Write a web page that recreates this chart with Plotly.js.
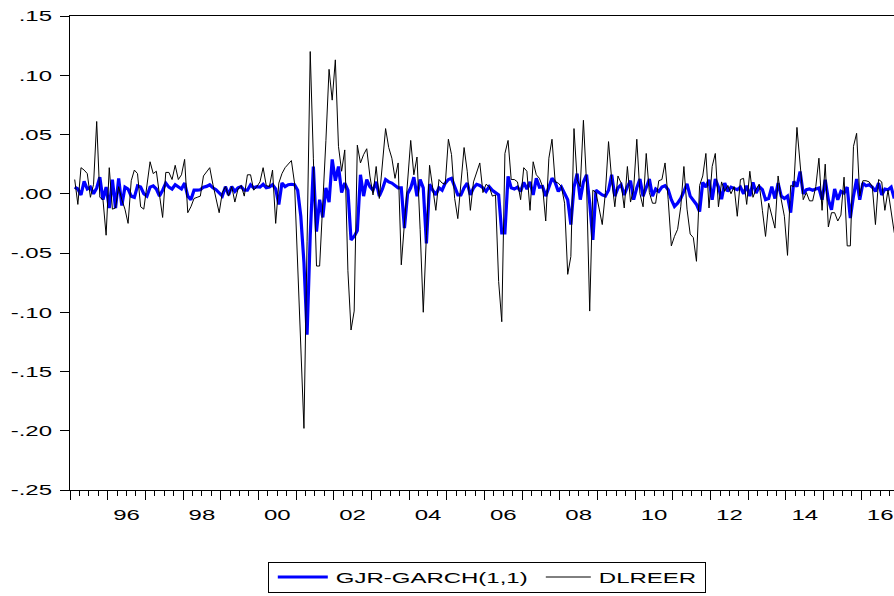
<!DOCTYPE html>
<html>
<head>
<meta charset="utf-8">
<script src="https://cdn.plot.ly/plotly-3.0.1.min.js"></script>
<style>
html, body { margin: 0; padding: 0; background: #fff; overflow: hidden; width: 894px; height: 596px; }
#chart { width: 899px; height: 596px; }
</style>
</head>
<body>
<div id="chart"></div>
<script>
// First monthly observation (February 1995); one value per month afterwards
const firstObs = { year: 1995, month: 2 };

// DLREER (thin black line)
const dlreer = [
  .012,-.009,.022,.020,.017,-.003,.008,.061,-.003,-.005,
  -.035,.022,-.013,-.012,.006,-.005,-.013,-.025,.011,.020,
  .017,-.011,-.013,.009,.027,.017,.019,-.001,-.020,.018,
  .018,.012,.024,.012,.016,.029,-.016,-.011,-.004,-.003,
  -.002,.015,.019,.022,.008,-.004,-.016,.001,.006,-.002,
  .006,-.007,.004,.007,-.002,.016,.016,.003,.006,.010,
  .022,.007,.006,.020,-.025,.009,.017,.022,.025,.028,
  .009,-.060,-.130,-.198,-.040,.120,.030,-.061,-.061,-.010,
  .045,.105,.079,.113,.040,.019,.037,-.065,-.115,-.099,
  .041,.026,.033,.038,.015,-.001,.023,-.004,.027,.055,
  .039,.030,.013,.026,-.060,-.025,.012,.045,.016,.031,
  -.030,-.100,-.035,.024,.005,-.014,.012,.009,.008,.046,
  .033,-.004,-.021,.012,.039,.019,-.014,.010,.019,.026,
  .001,.008,.006,-.002,-.001,-.074,-.108,.034,.045,.012,
  .012,.010,-.005,.022,.019,-.014,.027,.016,.013,.006,
  -.023,.030,.046,.010,.009,.006,-.008,-.068,-.053,.055,
  .012,.006,.062,.009,-.099,.003,.001,-.014,-.026,.001,
  .044,.012,-.011,.015,.009,-.012,.023,-.007,.004,.046,
  .000,-.011,.034,.001,-.008,-.008,.011,.012,.026,-.005,
  -.044,-.036,-.030,-.011,.023,-.013,-.034,-.037,-.057,.007,
  .015,.034,-.012,.023,.034,-.011,.010,.002,.007,.000,
  .006,-.019,.012,.013,-.009,.019,-.003,.004,.008,-.014,
  -.036,-.008,-.019,-.029,.015,-.005,-.019,-.052,.007,.006,
  .056,.026,-.005,.001,-.006,-.006,.006,.030,-.014,.025,
  -.028,-.016,-.016,-.023,-.018,.014,-.044,-.044,.040,.051,
  -.002,.011,.011,.010,.006,-.026,.012,.010,-.014,.003,
  -.016,-.033
];

// GJR-GARCH(1,1) (thick blue line)
const gjrGarch = [
  .0056,.004,-.001,.0104,.004,.0056,.000,.0048,.014,-.005,
  .0056,-.012,.0118,-.012,.013,-.010,.0056,.004,-.002,-.003,
  .0067,.0056,.000,-.002,.0056,.0067,.004,-.002,.003,.009,
  .0056,.004,.0076,.0056,.004,.009,-.002,-.005,.003,.003,
  .0034,.0056,.0062,.0076,.005,.0034,.0006,-.002,.006,-.001,
  .006,.002,.005,.006,.003,.003,.0076,.005,.006,.0056,
  .008,.005,.0056,.0076,.004,-.009,.009,.006,.0076,.008,
  .0076,.003,-.019,-.058,-.119,-.035,.023,-.032,-.005,-.020,
  .005,-.007,.029,.011,.023,.001,.009,.003,-.039,-.036,
  -.031,.016,-.002,.012,.006,.003,.010,-.002,.004,.012,
  .010,.009,.007,.005,.005,-.029,.000,.005,.014,-.002,
  .012,.005,-.042,.008,.003,-.001,.005,.003,.009,.012,
  .013,.006,-.001,-.001,.005,.009,-.001,.005,.008,.007,
  .005,.002,.006,.003,.001,-.001,-.033,-.033,.0146,.005,
  .004,.0056,.002,.0096,.004,.010,-.001,.013,.0056,.006,
  -.002,.0056,.013,.0096,.002,.0056,.000,-.005,-.026,.0056,
  .017,-.005,.010,.016,-.008,-.039,.003,.0006,-.001,-.002,
  .003,.016,-.002,.005,.0076,-.001,.006,.011,-.005,.005,
  .0124,-.002,.0056,.0124,-.002,.004,.002,.0056,.0067,.0034,
  -.005,-.0107,-.008,-.004,.002,.0084,-.002,-.005,-.009,-.015,
  .0096,.0056,.0118,-.005,.0124,.0056,-.0045,.009,.002,.0056,
  .0048,.0034,.0056,.000,.0067,-.002,.0096,.0006,.006,.0034,
  -.005,-.004,.006,-.004,.009,-.002,-.004,-.002,-.016,.0104,
  .006,.0188,.000,.0034,.004,.003,.004,.0048,-.005,.0118,
  -.005,-.0135,.004,-.005,.002,.0006,.0056,-.0205,-.002,.0124,
  -.005,.009,.0067,.0076,.0056,.002,.009,-.001,.004,.0034,
  .0056,-.004
];

const seriesNames = ["GJR-GARCH(1,1)", "DLREER"];

// Axis ticks and labels
const yTickVals = [-0.25, -0.20, -0.15, -0.10, -0.05, 0.00, 0.05, 0.10, 0.15];
const yTickText = ["-.25", "-.20", "-.15", "-.10", "-.05", ".00", ".05", ".10", ".15"];
const xLabelYears = [1996, 1998, 2000, 2002, 2004, 2006, 2008, 2010, 2012, 2014, 2016];
const xLabelText = ["96", "98", "00", "02", "04", "06", "08", "10", "12", "14", "16"];
const xRange = [1995, 2017];

// time index (mid-month, in years)
const t = dlreer.map((_, i) => firstObs.year + (firstObs.month - 1 + i + 0.5) / 12);
const yearTicks = [];
for (let y = xRange[0]; y <= xRange[1]; y++) yearTicks.push(y);

const FONT = { family: "Liberation Sans, Arial, sans-serif", size: 15, color: "#000" };
const K = 1.6; // horizontal stretch of the lettering in the original graphic

const data = [
  { type: "scatter", mode: "lines", name: seriesNames[0], x: t, y: gjrGarch,
    xaxis: "x", yaxis: "y",
    line: { color: "rgb(0,0,255)", width: 3.2 } },
  { type: "scatter", mode: "lines", name: seriesNames[1], x: t, y: dlreer,
    xaxis: "x2", yaxis: "y",
    line: { color: "#000", width: 1 } }
];

const layout = {
  width: 899, height: 596,
  margin: { l: 70, r: 0, t: 16, b: 105 },
  paper_bgcolor: "#fff", plot_bgcolor: "#fff",
  font: FONT,
  showlegend: true,
  xaxis: {
    range: xRange, tickmode: "array", tickvals: yearTicks,
    showticklabels: false, ticks: "outside", ticklen: 9, tickwidth: 1, tickcolor: "#000",
    minor: { tick0: xRange[0], dtick: 0.25, ticks: "outside", ticklen: 5, tickwidth: 1, tickcolor: "#000", showgrid: false },
    showgrid: false, zeroline: false,
    showline: true, linecolor: "#000", linewidth: 1, mirror: true
  },
  xaxis2: {
    overlaying: "x", anchor: "y", side: "bottom",
    range: xRange, tickmode: "array",
    tickvals: xLabelYears.map(y => y + 0.5), ticktext: xLabelText,
    ticks: "", showgrid: false, zeroline: false, showline: false,
    tickfont: FONT, ticklabelstandoff: 14
  },
  yaxis: {
    range: [-0.25, 0.15], tickmode: "array", tickvals: yTickVals, ticktext: yTickText,
    ticks: "outside", ticklen: 9, tickwidth: 1, tickcolor: "#000",
    showgrid: false, zeroline: false,
    showline: true, linecolor: "#000", linewidth: 1, mirror: true,
    tickfont: FONT, ticklabelstandoff: 5
  },
  legend: {
    orientation: "h", x: 0.5, xanchor: "center", y: -0.1495, yanchor: "top",
    bgcolor: "#fff", bordercolor: "#000", borderwidth: 1, font: FONT,
    traceorder: "normal"
  }
};

const gd = document.getElementById("chart");
Plotly.newPlot(gd, data, layout, { staticPlot: true, displayModeBar: false }).then(() => {
  const stretch = el => {
    const ax = parseFloat(el.getAttribute("x")) || 0;
    const tr = el.getAttribute("transform") || "";
    el.setAttribute("transform", `${tr} translate(${ax},0) scale(${K},1) translate(${-ax},0)`);
  };
  gd.querySelectorAll("g.xtick > text, g.x2tick > text, g.ytick > text").forEach(stretch);

  // legend: widen the entries to fit the stretched lettering
  const legend = gd.querySelector("g.legend");
  if (legend) {
    const scroll = legend.querySelector(".scrollbox");
    if (scroll) scroll.removeAttribute("clip-path");
    const items = Array.from(legend.querySelectorAll("g.traces"));
    const lineLens = [50, 45];
    const lineStarts = [10, 18];
    const textGap = 8;
    let cursor = 0;
    items.forEach((it, i) => {
      const txt = it.querySelector("text.legendtext");
      const w = txt.getComputedTextLength();
      const ls = cursor + lineStarts[i];
      const path = it.querySelector(".legendlines path");
      if (path) path.setAttribute("d", `M${ls},0h${lineLens[i]}`);
      const tx = ls + lineLens[i] + textGap;
      txt.setAttribute("x", tx);
      stretch(txt);
      it.setAttribute("transform", "translate(0,15)");
      cursor = tx + w * K;
    });
    const boxW = cursor + 9;
    const bg = legend.querySelector("rect.bg");
    if (bg) { bg.setAttribute("width", boxW); bg.setAttribute("height", 30); }
    const sz = gd._fullLayout._size;
    const cx = sz.l + sz.w / 2 + 2;
    legend.setAttribute("transform", `translate(${cx - boxW / 2},562)`);
  }
});
</script>
</body>
</html>
